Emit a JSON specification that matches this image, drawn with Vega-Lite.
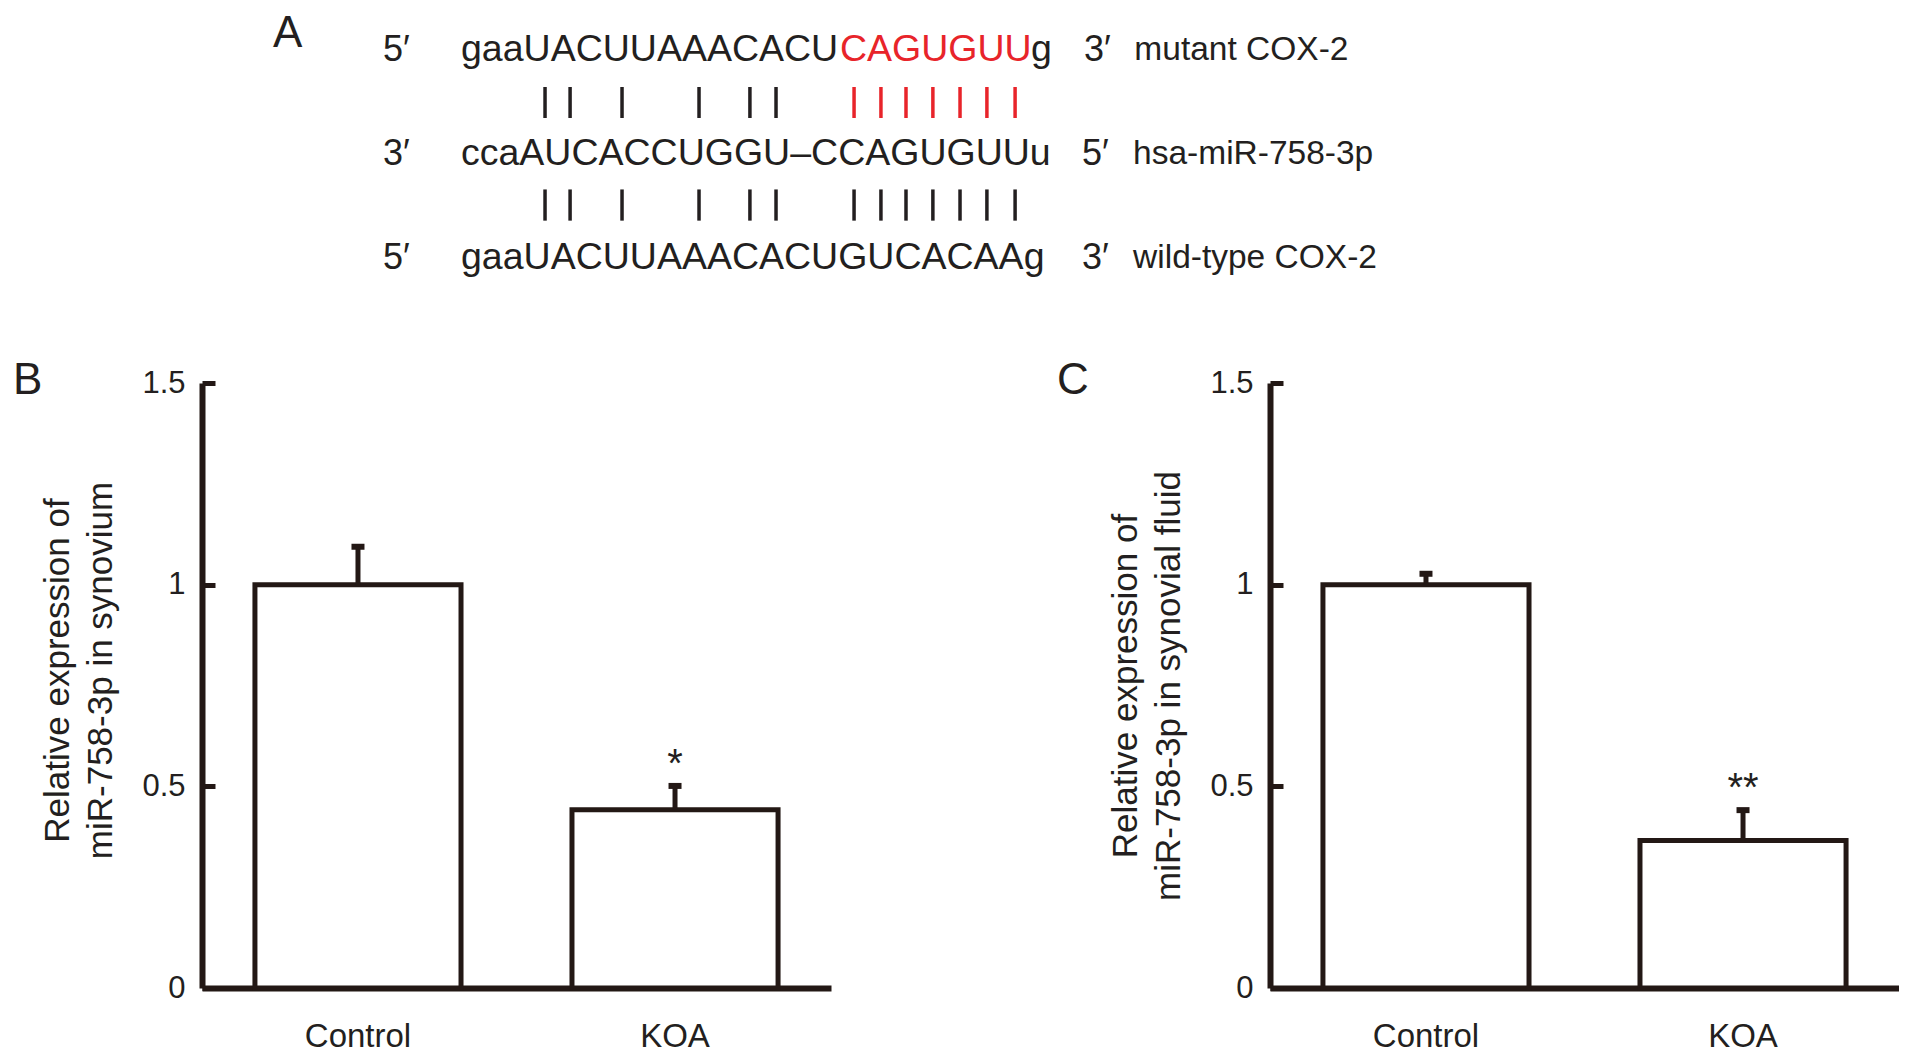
{
  "$schema": "https://vega.github.io/schema/vega-lite/v6.json",
  "padding": {"left": 12, "top": 0, "right": 0, "bottom": 0},
  "background": "white",
  "config": {
    "view": {"stroke": null},
    "font": "Liberation Sans",
    "axisY": {"format": ".2~f", "grid": false,
              "domainColor": "#231815", "domainWidth": 6, "tickColor": "#231815", "tickWidth": 5, "tickSize": -13,
              "labelPadding": 30, "labelFontSize": 31, "labelFont": "Liberation Sans", "labelColor": "#231f20",
              "titleFontSize": 35, "titleFont": "Liberation Sans", "titleFontWeight": "normal", "titleColor": "#231f20",
              "titlePadding": 23, "titleLineHeight": 43},
    "axisX": {"title": null, "domainColor": "#231815", "domainWidth": 6, "ticks": false, "labelAngle": 0, "labelPadding": 32,
              "labelFontSize": 33, "labelFont": "Liberation Sans", "labelColor": "#231f20"}
  },
  "spacing": 58,
  "vconcat": [
    {
      "width": 1690,
      "height": 300,
      "view": {"stroke": null, "fill": "white"},
      "encoding": {
        "x": {"field": "p", "type": "quantitative", "scale": {"domain": [-9.923, 54.828], "nice": false, "zero": false}, "axis": null},
        "y": {"field": "row", "type": "quantitative", "scale": {"domain": [-0.4615, 2.423], "nice": false, "zero": false, "reverse": true}, "axis": null},
        "color": {"field": "tone", "type": "nominal", "scale": {"domain": ["black", "red"], "range": ["#231f20", "#e8242a"]}, "legend": null}
      },
      "layer": [
        {
          "data": {"values": [
            {"p": -7.2, "row": -0.135, "label": "A", "tone": "black"}
          ]},
          "mark": {"type": "text", "align": "left", "baseline": "middle", "font": "Liberation Sans", "fontSize": 44},
          "encoding": {"text": {"field": "label"}}
        },
        {
          "data": {"values": [
            {"p": 0, "row": 0.015, "label": "gaaUACUUAAACACU", "tone": "black"},
            {"p": 14.52, "row": 0.015, "label": "CAGUGUU", "tone": "red"},
            {"p": 21.84, "row": 0.015, "label": "g", "tone": "black"},
            {"p": 0, "row": 1.015, "label": "ccaAUCACCUGGU–CCAGUGUUu", "tone": "black"},
            {"p": 0, "row": 2.015, "label": "gaaUACUUAAACACUGUCACAAg", "tone": "black"}
          ]},
          "mark": {"type": "text", "align": "left", "baseline": "middle", "font": "Liberation Sans", "fontSize": 37.5},
          "encoding": {"text": {"field": "label"}}
        },
        {
          "data": {"values": [
            {"p": -2.99, "row": 0.015, "label": "5′", "tone": "black"},
            {"p": 23.87, "row": 0.015, "label": "3′", "tone": "black"},
            {"p": -2.99, "row": 1.015, "label": "3′", "tone": "black"},
            {"p": 23.79, "row": 1.015, "label": "5′", "tone": "black"},
            {"p": -2.99, "row": 2.015, "label": "5′", "tone": "black"},
            {"p": 23.79, "row": 2.015, "label": "3′", "tone": "black"}
          ]},
          "mark": {"type": "text", "align": "left", "baseline": "middle", "font": "Liberation Sans", "fontSize": 36},
          "encoding": {"text": {"field": "label"}}
        },
        {
          "data": {"values": [
            {"p": 25.8, "row": 0.015, "label": "mutant COX-2", "tone": "black"},
            {"p": 25.75, "row": 1.015, "label": "hsa-miR-758-3p", "tone": "black"},
            {"p": 25.75, "row": 2.015, "label": "wild-type COX-2", "tone": "black"}
          ]},
          "mark": {"type": "text", "align": "left", "baseline": "middle", "font": "Liberation Sans", "fontSize": 33.5},
          "encoding": {"text": {"field": "label"}}
        },
        {
          "data": {"values": [
            {"p": 3.22, "row": 0.375, "y1": 0.673, "tone": "black"},
            {"p": 4.18, "row": 0.375, "y1": 0.673, "tone": "black"},
            {"p": 6.17, "row": 0.375, "y1": 0.673, "tone": "black"},
            {"p": 9.12, "row": 0.375, "y1": 0.673, "tone": "black"},
            {"p": 11.07, "row": 0.375, "y1": 0.673, "tone": "black"},
            {"p": 12.07, "row": 0.375, "y1": 0.673, "tone": "black"},
            {"p": 15.06, "row": 0.375, "y1": 0.673, "tone": "red"},
            {"p": 16.09, "row": 0.375, "y1": 0.673, "tone": "red"},
            {"p": 17.05, "row": 0.375, "y1": 0.673, "tone": "red"},
            {"p": 18.08, "row": 0.375, "y1": 0.673, "tone": "red"},
            {"p": 19.12, "row": 0.375, "y1": 0.673, "tone": "red"},
            {"p": 20.15, "row": 0.375, "y1": 0.673, "tone": "red"},
            {"p": 21.23, "row": 0.375, "y1": 0.673, "tone": "red"},
            {"p": 3.22, "row": 1.36, "y1": 1.66, "tone": "black"},
            {"p": 4.18, "row": 1.36, "y1": 1.66, "tone": "black"},
            {"p": 6.17, "row": 1.36, "y1": 1.66, "tone": "black"},
            {"p": 9.12, "row": 1.36, "y1": 1.66, "tone": "black"},
            {"p": 11.07, "row": 1.36, "y1": 1.66, "tone": "black"},
            {"p": 12.07, "row": 1.36, "y1": 1.66, "tone": "black"},
            {"p": 15.06, "row": 1.36, "y1": 1.66, "tone": "black"},
            {"p": 16.09, "row": 1.36, "y1": 1.66, "tone": "black"},
            {"p": 17.05, "row": 1.36, "y1": 1.66, "tone": "black"},
            {"p": 18.08, "row": 1.36, "y1": 1.66, "tone": "black"},
            {"p": 19.12, "row": 1.36, "y1": 1.66, "tone": "black"},
            {"p": 20.15, "row": 1.36, "y1": 1.66, "tone": "black"},
            {"p": 21.23, "row": 1.36, "y1": 1.66, "tone": "black"}
          ]},
          "mark": {"type": "rule", "strokeWidth": 3.5},
          "encoding": {"y2": {"field": "y1"}}
        }
      ]
    },
    {
      "spacing": 225,
      "hconcat": [
        {
          "width": 629,
          "height": 605,
          "title": {"text": "B", "anchor": "start", "frame": "bounds", "fontSize": 44, "fontWeight": "normal", "font": "Liberation Sans", "color": "#231f20", "offset": -60.5, "baseline": "alphabetic", "dx": -28, "dy": 10},
          "data": {"values": [
            {"group": "Control", "mean": 1.0, "upper": 1.094, "sig": ""},
            {"group": "KOA", "mean": 0.442, "upper": 0.501, "sig": "*"}
          ]},
          "encoding": {
            "x": {"field": "group", "type": "nominal", "sort": ["Control", "KOA"],
                  "scale": {"paddingInner": 0.35, "paddingOuter": 0.167}}
          },
          "layer": [
            {
              "mark": {"type": "bar", "fill": "white", "stroke": "#231815", "strokeWidth": 5},
              "encoding": {
                "y": {"field": "mean", "type": "quantitative", "scale": {"domain": [0, 1.5], "nice": false},
                      "title": ["Relative expression of", "miR-758-3p in synovium"], "axis": {"values": [0, 0.5, 1, 1.5], "titleY": 287, "labelFontSize": 31}}
              }
            },
            {
              "mark": {"type": "rule", "strokeWidth": 5, "color": "#231815"},
              "encoding": {"y": {"field": "mean", "type": "quantitative", "title": ["Relative expression of", "miR-758-3p in synovium"]}, "y2": {"field": "upper"}}
            },
            {
              "mark": {"type": "tick", "thickness": 6, "size": 13, "color": "#231815", "opacity": 1},
              "encoding": {"y": {"field": "upper", "type": "quantitative", "title": ["Relative expression of", "miR-758-3p in synovium"]}}
            },
            {
              "mark": {"type": "text", "baseline": "alphabetic", "dy": -9, "fontSize": 40, "font": "Liberation Sans", "color": "#231f20"},
              "encoding": {"y": {"field": "upper", "type": "quantitative", "title": ["Relative expression of", "miR-758-3p in synovium"]}, "text": {"field": "sig"}}
            }
          ]
        },
        {
          "width": 629,
          "height": 605,
          "title": {"text": "C", "anchor": "start", "frame": "bounds", "fontSize": 44, "fontWeight": "normal", "font": "Liberation Sans", "color": "#231f20", "offset": -60.5, "baseline": "alphabetic", "dx": -52, "dy": 10},
          "data": {"values": [
            {"group": "Control", "mean": 1.0, "upper": 1.027, "sig": ""},
            {"group": "KOA", "mean": 0.366, "upper": 0.441, "sig": "**"}
          ]},
          "encoding": {
            "x": {"field": "group", "type": "nominal", "sort": ["Control", "KOA"],
                  "scale": {"paddingInner": 0.35, "paddingOuter": 0.167}}
          },
          "layer": [
            {
              "mark": {"type": "bar", "fill": "white", "stroke": "#231815", "strokeWidth": 5},
              "encoding": {
                "y": {"field": "mean", "type": "quantitative", "scale": {"domain": [0, 1.5], "nice": false},
                      "title": ["Relative expression of", "miR-758-3p in synovial fluid"], "axis": {"values": [0, 0.5, 1, 1.5], "labelFontSize": 31}}
              }
            },
            {
              "mark": {"type": "rule", "strokeWidth": 5, "color": "#231815"},
              "encoding": {"y": {"field": "mean", "type": "quantitative", "title": ["Relative expression of", "miR-758-3p in synovial fluid"]}, "y2": {"field": "upper"}}
            },
            {
              "mark": {"type": "tick", "thickness": 6, "size": 13, "color": "#231815", "opacity": 1},
              "encoding": {"y": {"field": "upper", "type": "quantitative", "title": ["Relative expression of", "miR-758-3p in synovial fluid"]}}
            },
            {
              "mark": {"type": "text", "baseline": "alphabetic", "dy": -9, "fontSize": 40, "font": "Liberation Sans", "color": "#231f20"},
              "encoding": {"y": {"field": "upper", "type": "quantitative", "title": ["Relative expression of", "miR-758-3p in synovial fluid"]}, "text": {"field": "sig"}}
            }
          ]
        }
      ]
    }
  ]
}
